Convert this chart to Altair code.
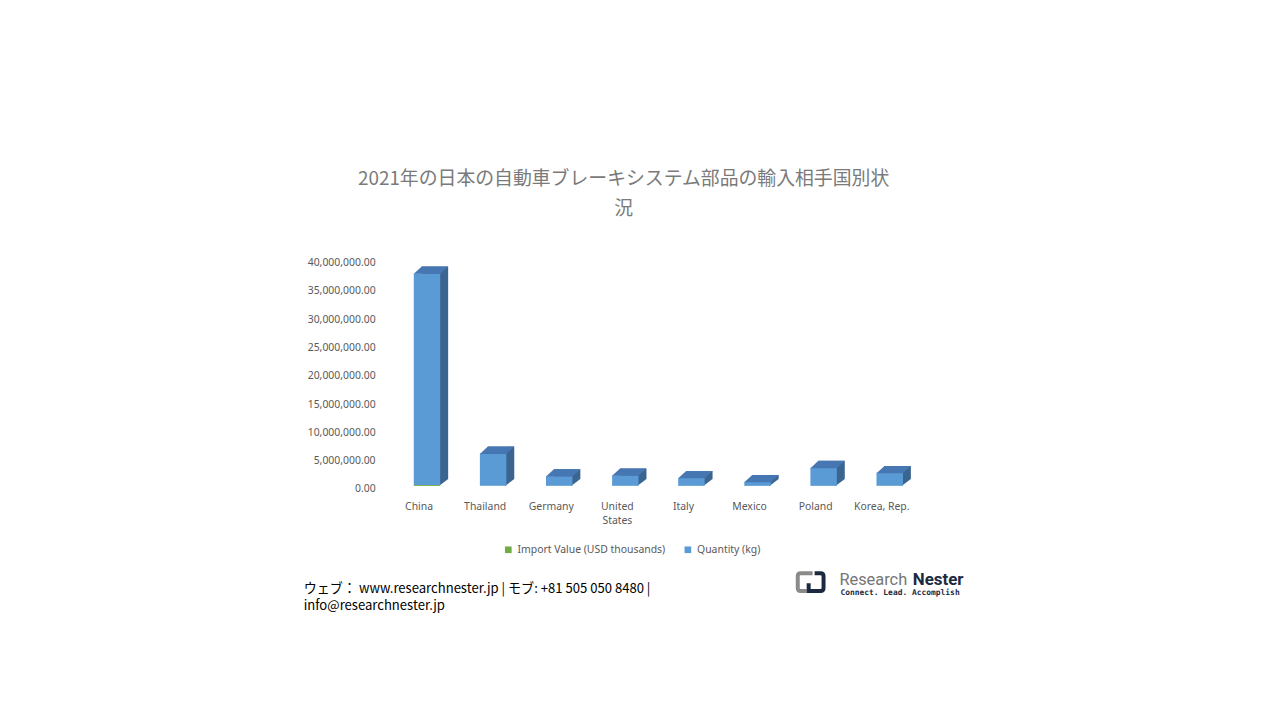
import altair as alt
import pandas as pd

countries = ["China", "Thailand", "Germany", "United States", "Italy", "Mexico", "Poland", "Korea, Rep."]
quantity_kg = [37_400_000, 5_700_000, 1_700_000, 1_850_000, 1_400_000, 700_000, 3_200_000, 2_300_000]
import_value = [180_000, 30_000, 25_000, 20_000, 12_000, 8_000, 10_000, 15_000]
series_names = ["Import Value (USD thousands)", "Quantity (kg)"]
series_colors = ["#70ad47", "#5b9bd5"]
y_ticks = [0, 5_000_000, 10_000_000, 15_000_000, 20_000_000, 25_000_000, 30_000_000, 35_000_000, 40_000_000]

title_lines = ["2021年の日本の自動車ブレーキシステム部品の輸入相手国別状", "況"]
footer_line1 = "ウェブ： www.researchnester.jp | モブ: +81 505 050 8480 |"
footer_line2 = "info@researchnester.jp"

rows = []
for c, iv, q in zip(countries, import_value, quantity_kg):
    rows.append({"country": c, "series": series_names[0], "value": iv, "ord": 0})
    rows.append({"country": c, "series": series_names[1], "value": q, "ord": 1})
long_df = pd.DataFrame(rows)
tot_df = pd.DataFrame({"country": countries, "total": [a + b for a, b in zip(import_value, quantity_kg)]})
tot_df["zero"] = 0

GRAY = "#595959"
FONT = "Noto Sans"
SIDE = "#3b6591"
TOP = "#4677b2"
XO = 8  # front-face shift from the category centre

x_enc = alt.X(
    "country:N", sort=countries, title=None,
    scale=alt.Scale(paddingInner=0.6, paddingOuter=0.3),
    axis=alt.Axis(labelAngle=0, domain=False, ticks=False, labelPadding=13,
                  labelFont=FONT, labelFontSize=10.5, labelColor=GRAY,
                  labelExpr="datum.value == 'United States' ? ['United', 'States'] : datum.value",
                  labelLineHeight=14),
)
y_scale = alt.Scale(domain=[0, 40_000_000])
y_axis = alt.Axis(values=y_ticks, format=",.2f", domain=False, ticks=False, grid=False,
                  labelOverlap=False, labelPadding=11, labelFont=FONT, labelFontSize=10.5,
                  labelColor=GRAY)

# side face (right) of each 3D bar
back = alt.Chart(tot_df).mark_bar(color=SIDE, xOffset=XO + 8, yOffset=-10).encode(
    x=x_enc,
    y=alt.Y("total:Q", scale=y_scale, title=None, axis=y_axis),
)
# bottom triangle of the side face
bottom_tri = alt.Chart(tot_df).mark_point(
    shape="M 1.2,0 L 2.13,-0.7 L 1.2,-0.72 Z", size=400, filled=True, opacity=1,
    strokeWidth=0, color=SIDE, xOffset=XO, yOffset=-3,
).encode(x=x_enc, y=alt.Y("zero:Q", scale=y_scale, title=None, axis=y_axis))

front = alt.Chart(long_df).mark_bar(xOffset=XO, yOffset=-3).encode(
    x=x_enc,
    y=alt.Y("value:Q", stack="zero", scale=y_scale, title=None, axis=y_axis),
    color=alt.Color("series:N", scale=alt.Scale(domain=series_names, range=series_colors),
                    legend=alt.Legend(title=None, orient="none", direction="horizontal",
                                      legendX=118, legendY=284, symbolType="square", symbolSize=45,
                                      labelFont=FONT, labelFontSize=10.5, labelColor=GRAY,
                                      columnPadding=17, symbolStrokeWidth=0)),
    order=alt.Order("ord:Q"),
)
# top face of each 3D bar
top_face = alt.Chart(tot_df).mark_point(
    shape="M -1.33,0.04 L 1.33,0.04 L 2.13,-0.7 L -0.53,-0.7 Z", size=400, filled=True,
    opacity=1, strokeWidth=0, color=TOP, xOffset=XO, yOffset=-3,
).encode(x=x_enc, y=alt.Y("total:Q", scale=y_scale, title=None, axis=y_axis))

one = pd.DataFrame({"k": [0]})
footer1 = alt.Chart(one).mark_text(
    text=footer_line1, align="left", baseline="middle", font="Noto Sans CJK JP",
    fontSize=13.2, color="#000000",
).encode(x=alt.value(-83), y=alt.value(329))
footer2 = alt.Chart(one).mark_text(
    text=footer_line2, align="left", baseline="middle", font="Noto Sans CJK JP",
    fontSize=13.2, color="#000000",
).encode(x=alt.value(-83), y=alt.value(346))

icon_gray = alt.Chart(one).mark_point(
    shape="M 0.2,-0.9 L -1,-0.9 Q -1.3,-0.9 -1.3,-0.6 L -1.3,0.6 Q -1.3,0.9 -1,0.9 L -0.4,0.9",
    size=400, filled=False, opacity=1, strokeWidth=4, color="#8a8a8a",
).encode(x=alt.value(428), y=alt.value(322))
icon_navy = alt.Chart(one).mark_point(
    shape="M 0.4,-0.9 L 1,-0.9 Q 1.3,-0.9 1.3,-0.6 L 1.3,0.6 Q 1.3,0.9 1,0.9 L -0.2,0.9 L -0.2,0.1",
    size=400, filled=False, opacity=1, strokeWidth=4, color="#1b2a41",
).encode(x=alt.value(428), y=alt.value(322))
logo_font = "'Liberation Sans Narrow', 'Roboto', sans-serif"
logo1 = alt.Chart(one).mark_text(
    text="Research", align="left", baseline="alphabetic", font=logo_font, fontSize=16.5, color="#767676"
).encode(x=alt.value(457), y=alt.value(325))
logo2 = alt.Chart(one).mark_text(
    text="Nester", align="left", baseline="alphabetic", font=logo_font, fontSize=17,
    fontWeight="bold", color="#1b2a41"
).encode(x=alt.value(531), y=alt.value(325))
logo3 = alt.Chart(one).mark_text(
    text="Connect. Lead. Accomplish", align="left", baseline="alphabetic",
    font="DejaVu Sans Mono", fontSize=8, fontWeight="bold", color="#1b2a41"
).encode(x=alt.value(458), y=alt.value(335))

chart = alt.layer(back, bottom_tri, front, top_face, footer1, footer2, icon_gray, icon_navy,
                  logo1, logo2, logo3).properties(
    width=533, height=228,
    title=alt.TitleParams(text=title_lines, anchor="middle", frame="group", dx=-27, offset=39,
                          font="Noto Sans CJK JP", fontSize=19, fontWeight="normal",
                          color="#7a7a7a", lineHeight=30),
    autosize=alt.AutoSizeParams(type="none"),
    padding={"left": 381, "top": 254, "right": 360, "bottom": 200},
).configure_view(stroke=None)

chart.save("out.html", embed_options={"renderer": "svg", "actions": False})
